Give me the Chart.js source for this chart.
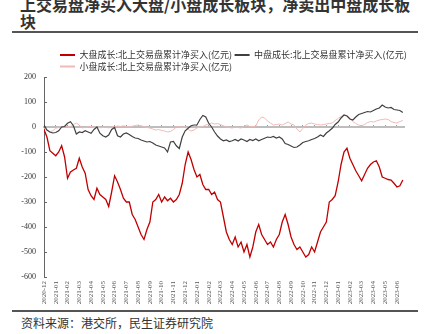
<!DOCTYPE html>
<html>
<head>
<meta charset="utf-8">
<script src="https://cdn.jsdelivr.net/npm/chart.js@4"></script>
<style>
  html, body { margin: 0; padding: 0; background: #fff; }
  body { width: 426px; height: 334px; position: relative; overflow: hidden; font-family: "Noto Sans CJK SC", sans-serif; }
  #title { position: absolute; left: 20px; top: -4px; width: 396px; font-size: 16px; line-height: 17px; font-weight: bold; color: #333; }
  .rule { position: absolute; left: 12px; width: 406px; height: 2px; background: #555; }
  #foot { position: absolute; left: 21px; top: 315px; font-size: 12px; line-height: 16px; color: #333; }
  #wrap { position: absolute; left: 0; top: 36px; width: 426px; height: 274px; }
</style>
</head>
<body>
<div id="title">上交易盘净买入大盘/小盘成长板块，净卖出中盘成长板块</div>
<div class="rule" style="top:31px"></div>
<div id="wrap"><canvas id="c"></canvas></div>
<div class="rule" style="top:310px"></div>
<div id="foot">资料来源：港交所，民生证券研究院</div>
<script>
// 月份刻度
const monthLabels = [
  '2020-12',
  '2021-01', '2021-02', '2021-03', '2021-04', '2021-05', '2021-06',
  '2021-07', '2021-08', '2021-09', '2021-10', '2021-11', '2021-12',
  '2022-01', '2022-02', '2022-03', '2022-04', '2022-05', '2022-06',
  '2022-07', '2022-08', '2022-09', '2022-10', '2022-11', '2022-12',
  '2023-01', '2023-02', '2023-03', '2023-04', '2023-05', '2023-06'
];

// 每周一个点（每月4个），单位：亿元
const bigGrowth = [
  -10, -40, -95, -105,   -115, -100, -75, -120,   -205, -180, -172, -165,   -125, -160, -185, -250,
  -275, -290, -245, -270, -280, -290, -318, -260,   -195, -220, -250, -285,   -300, -300, -350, -370,
  -400, -430, -450, -410, -380, -300, -290, -270,   -300, -280, -295, -285,   -300, -290, -270, -225,
  -150, -100, -130, -170, -200, -190, -230, -250,   -250, -270, -260, -290,   -300, -360, -420, -450,
  -470, -440, -480, -460, -500, -470, -520, -480,   -420, -390, -430, -450,   -470, -460, -480, -450,
  -430, -380, -350, -390, -440, -470, -490, -480,   -500, -520, -510, -480,   -500, -460, -420, -400,
  -380, -300, -290, -275, -220, -150, -100, -85,    -125, -150, -175, -195,   -215, -190, -165, -150,
  -140, -135, -160, -200, -205, -210, -212, -225,   -240, -235, -212
];
const midGrowth = [
  8, -12, -20, -24,   -22, -15, 0, 2,   15, 21, 5, -28,   -20, -22, -15, -20,
  -25, -10, 0, -25,   -35, -40, -32, -10,   -2, -35, -40, -28,   -24, -30, -38, -44,
  -46, -52, -56, -60,   -58, -64, -72, -76,   -80, -84, -100, -60,   -58, -75, -86, -40,
  -15, -5, 5, 8,   8, 30, 46, 40,   15, 0, -20, -36,   -48, -55, -52, -58,
  -55, -50, -56, -48,   -52, -58, -50, -54,   -48, -55, -50, -45,   -40, -42, -38, -44,
  -40, -48, -66, -70,   -76, -82, -80, -72,   -62, -58, -55, -50,   -46, -40, -32, -38,
  -24, -15, -5, 10,   20, 36, 48, 44,   32, 28, 40, 50,   54, 58, 62, 60,
  66, 72, 76, 88,   80, 76, 78, 70,   68, 66, 58
];
const smallGrowth = [
  -4, -12, -20, -15,   -5, -2, 0, 4,   2, 0, 10, 16,   8, -4, -2, 0,
  2, -2, 0, -3,   -2, 0, -4, 2,   0, 4, 2, 5,   2, 0, 3, 6,
  8, 5, 2, -2,   -4, -8, -12, -10,   -14, -16, -20, -18,   -10, 0, 2, -2,
  2, -10, -16, -12,   -4, 0, 2, 8,   12, 16, 12, 14,   10, 5, 0, -2,
  -4, 0, -2, -4,   4, 8, 2, 0,   4, 28, 40, 36,   24, 16, 8, 10,
  12, 8, 14, 20,   12, 8, -8, -20,   -6, 8, 14, 16,   12, 10, 8, 10,
  12, 14, 16, 26,   34, 42, 48, 46,   36, 22, 14, 8,   5, 10, 18, 22,
  20, 24, 28, 30,   32, 30, 22, 18,   16, 22, 26
];

const seriesNames = [
  '大盘成长:北上交易盘累计净买入(亿元)',
  '中盘成长:北上交易盘累计净买入(亿元)',
  '小盘成长:北上交易盘累计净买入(亿元)'
];
const seriesColors = ['#c00000', '#404040', '#f2b9b9'];

// 每个点相隔一周 = 0.25 个月
const toPoints = arr => arr.map((v, i) => ({ x: i * 0.25, y: v }));

// 把图例挪到和原图一样的位置
const legendPlace = {
  id: 'legendPlace',
  afterLayout(chart) {
    chart.legend.left = 57.5;
    chart.legend.top = 12;
    chart.legend.right = 426;
  }
};

const xMax = 30.6;
const serif = 'Liberation Serif';

new Chart(document.getElementById('c'), {
  type: 'line',
  data: {
    datasets: [
      { label: seriesNames[0], data: toPoints(bigGrowth), borderColor: seriesColors[0], backgroundColor: seriesColors[0], borderWidth: 1.3 },
      { label: seriesNames[1], data: toPoints(midGrowth), borderColor: seriesColors[1], backgroundColor: seriesColors[1], borderWidth: 1.2 },
      { label: seriesNames[2], data: toPoints(smallGrowth), borderColor: seriesColors[2], backgroundColor: seriesColors[2], borderWidth: 1 }
    ]
  },
  options: {
    responsive: true,
    maintainAspectRatio: false,
    animation: false,
    elements: { point: { radius: 0 }, line: { tension: 0 } },
    layout: { padding: { top: 8, right: 22, left: 0, bottom: 0 } },
    plugins: {
      tooltip: { enabled: false },
      legend: {
        position: 'top',
        align: 'start',
        labels: {
          boxWidth: 15,
          boxHeight: 2,
          padding: 2.5,
          color: '#333',
          font: { family: 'Noto Sans CJK SC', size: 9 },
          generateLabels(chart) {
            const items = Chart.defaults.plugins.legend.labels.generateLabels(chart);
            items.forEach(it => { it.lineWidth = 0; it.fillStyle = it.strokeStyle; });
            return items;
          }
        }
      }
    },
    scales: {
      x: {
        type: 'linear',
        min: 0,
        max: xMax,
        afterFit(s) { s.height = 33; },
        border: { display: false },
        grid: { display: false, drawTicks: false },
        ticks: {
          stepSize: 1,
          includeBounds: false,
          autoSkip: false,
          maxTicksLimit: 40,
          minRotation: 90,
          maxRotation: 90,
          padding: 4,
          color: '#555',
          font: { family: serif, size: 7 },
          callback: v => monthLabels[v] ?? ''
        }
      },
      x2: {
        type: 'linear',
        axis: 'x',
        position: { y: 0 },
        min: 0,
        max: xMax,
        afterFit(s) { s.height = 0; },
        border: { display: true, color: '#bdbdbd', width: 2 },
        grid: { display: true, drawOnChartArea: false, drawTicks: true, tickLength: -3, tickColor: '#9a9a9a' },
        ticks: { display: false, stepSize: 1, includeBounds: false, autoSkip: false, maxTicksLimit: 40 }
      },
      y: {
        min: -600,
        max: 200,
        afterFit(s) { s.width = 44; },
        border: { display: true, color: '#666', width: 1 },
        grid: { drawOnChartArea: false, drawTicks: true, tickLength: -3, tickColor: '#666' },
        ticks: { stepSize: 100, padding: 11, color: '#333', font: { family: serif, size: 8 } }
      }
    }
  },
  plugins: [legendPlace]
});
</script>
</body>
</html>
